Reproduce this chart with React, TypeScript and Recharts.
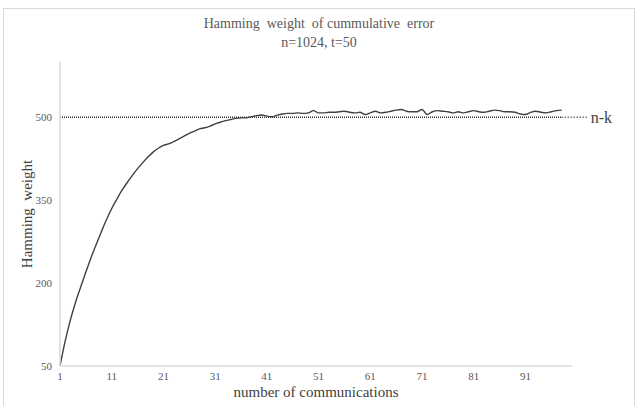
import React from 'react';
import { LineChart, Line, XAxis, YAxis, Label } from 'recharts';

const categories: number[] = Array.from({ length: 100 }, (_, i) => i + 1);

const weightValues: number[] = [
  50, 95, 133, 165, 193, 220, 246, 270, 293, 315,
  335, 352, 368, 382, 395, 407, 418, 428, 437, 444,
  449, 452, 456, 461, 466, 471, 475, 479, 481, 484,
  488, 491, 494, 496, 498, 499, 499, 501, 503, 504,
  502, 501, 504, 506, 507, 507, 508, 507, 508, 512,
  508, 508, 509, 509, 510, 511, 509, 508, 509, 505,
  508, 511, 508, 509, 511, 513, 514, 511, 510, 510,
  514, 505, 510, 512, 511, 510, 508, 510, 508, 510,
  512, 510, 509, 511, 513, 512, 510, 510, 509, 506,
  505, 509, 511, 509, 508, 510, 512, 513,
];

const nkValue = 500;
const nkLabel = 'n-k';
const yTicks: number[] = [50, 200, 350, 500];
const xTicks: number[] = [1, 11, 21, 31, 41, 51, 61, 71, 81, 91];

const titleLine1 = 'Hamming  weight  of cummulative  error';
const titleLine2 = 'n=1024, t=50';
const xTitle = 'number of communications';
const yTitle = 'Hamming  weight';

const data = categories.map((c, i) => ({
  c,
  w: i < weightValues.length ? weightValues[i] : null,
  nk: i < weightValues.length ? nkValue : null,
}));

const FONT = '"Liberation Serif", "Times New Roman", serif';
const TXT = '#595959';

const lastIdx = weightValues.length - 1;

const NkLabel = (props: any) => {
  const { x, y, index } = props;
  if (index !== lastIdx) return null;
  return (
    <g>
      <line x1={x} y1={y} x2={x + 25} y2={y} stroke="#333" strokeWidth={1.3} strokeDasharray="1 2" />
      <text x={x + 29} y={y} dy="0.35em" fontFamily={FONT} fontSize={16} fill="#404040">
        {nkLabel}
      </text>
    </g>
  );
};

const XTick = (props: any) => {
  const { x, y, payload } = props;
  return (
    <text x={x} y={y} dy="0.71em" textAnchor="middle" fontFamily={FONT} fontSize={11} fill={TXT}>
      {payload.value}
    </text>
  );
};

const YTick = (props: any) => {
  const { x, y, payload } = props;
  return (
    <text x={x} y={y} dy="0.35em" textAnchor="end" fontFamily={FONT} fontSize={11} fill={TXT}>
      {payload.value}
    </text>
  );
};

const XTitle = (props: any) => {
  const vb = props.viewBox || {};
  const cx = vb.x + vb.width / 2;
  return (
    <text x={cx} y={vb.y + 26} dy="0.35em" textAnchor="middle" fontFamily={FONT} fontSize={15} fill="#404040" style={{ whiteSpace: 'pre', fontFamily: FONT }}>
      {xTitle}
    </text>
  );
};

const YTitle = (props: any) => {
  const vb = props.viewBox || {};
  const cy = vb.y + vb.height / 2;
  const cx = 23;
  return (
    <text
      x={cx}
      y={cy}
      dy="0.35em"
      textAnchor="middle"
      transform={`rotate(-90, ${cx}, ${cy})`}
      fontFamily={FONT}
      fontSize={15}
      fill="#404040"
      style={{ whiteSpace: 'pre', fontFamily: FONT }}
    >
      {yTitle}
    </text>
  );
};

export default function App() {
  return (
    <div
      style={{
        position: 'absolute',
        left: 3,
        top: 8,
        width: 632,
        height: 400,
        border: '1px solid #d9d9d9',
        boxSizing: 'border-box',
        background: '#fff',
      }}
    >
      <div
        style={{
          position: 'absolute',
          left: 0,
          top: 5,
          width: 630,
          textAlign: 'center',
          fontFamily: FONT,
          fontSize: 14,
          color: TXT,
          lineHeight: '19px',
          whiteSpace: 'pre',
        }}
      >
        <div>{titleLine1}</div>
        <div>{titleLine2}</div>
      </div>
      <LineChart
        width={630}
        height={398}
        data={data}
        margin={{ top: 53, right: 62, left: 0, bottom: 0 }}
      >
        <XAxis
          dataKey="c"
          type="category"
          scale="point"
          ticks={xTicks}
          interval={0}
          padding={{ left: 0, right: 0 }}
          height={41}
          tickLine={false}
          tickSize={4}
          tickMargin={2}
          axisLine={{ stroke: '#d9d9d9', strokeWidth: 1.5 }}
          tick={<XTick />}
        >
          <Label content={<XTitle />} />
        </XAxis>
        <YAxis
          type="number"
          domain={[50, 600]}
          ticks={yTicks}
          interval={0}
          width={56}
          tickLine={false}
          tickSize={6}
          tickMargin={2}
          axisLine={{ stroke: '#d9d9d9', strokeWidth: 1.5 }}
          tick={<YTick />}
        >
          <Label content={<YTitle />} />
        </YAxis>
        <Line
          dataKey="nk"
          stroke="#333"
          strokeWidth={1.3}
          strokeDasharray="1 1"
          dot={false}
          activeDot={false}
          isAnimationActive={false}
          label={<NkLabel />}
        />
        <Line
          dataKey="w"
          type="monotone"
          stroke="#404040"
          strokeWidth={1.4}
          dot={false}
          activeDot={false}
          isAnimationActive={false}
        />
      </LineChart>
    </div>
  );
}
